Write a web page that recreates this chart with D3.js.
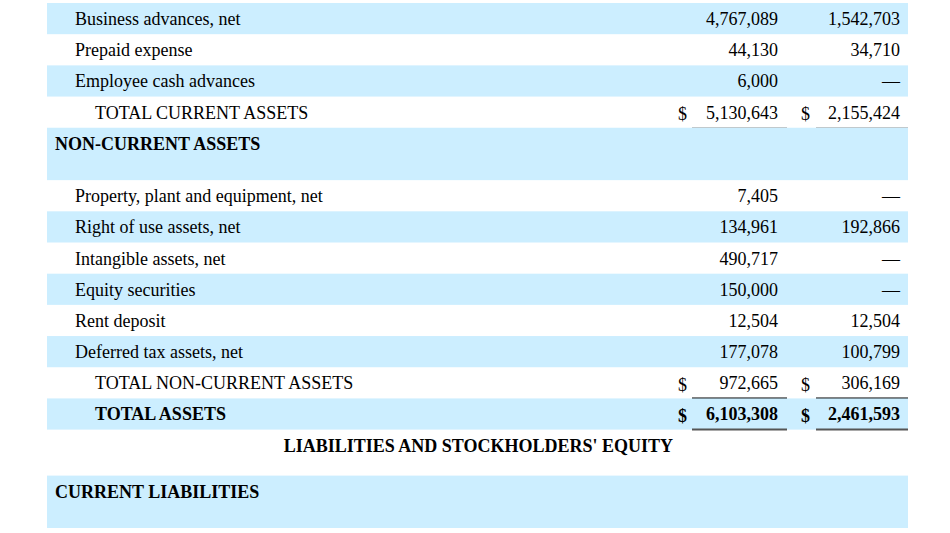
<!DOCTYPE html>
<html>
<head>
<meta charset="utf-8">
<script src="https://cdn.jsdelivr.net/npm/d3@7/dist/d3.min.js"></script>
<style>
html, body {margin:0; padding:0; background:#fff;}
svg text {font-family:"Liberation Serif","Times New Roman",serif; font-size:18px; fill:#000;}
</style>
</head>
<body>
<svg id="chart" width="950" height="533"></svg>
<script>
// row data (read from the balance sheet)
var rowLabels = [
	"Business advances, net",
	"Prepaid expense",
	"Employee cash advances",
	"TOTAL CURRENT ASSETS",
	"NON-CURRENT ASSETS",
	"Property, plant and equipment, net",
	"Right of use assets, net",
	"Intangible assets, net",
	"Equity securities",
	"Rent deposit",
	"Deferred tax assets, net",
	"TOTAL NON-CURRENT ASSETS",
	"TOTAL ASSETS",
	"LIABILITIES AND STOCKHOLDERS' EQUITY",
	"CURRENT LIABILITIES"
];
// item / subtotal / total / section / title
var rowKinds = ["item","item","item","subtotal","section","item","item","item","item","item","item","subtotal","total","title","section"];
var valuesCurrent = [4767089, 44130, 6000, 5130643, null, 7405, 134961, 490717, 150000, 12504, 177078, 972665, 6103308, null, null];
var valuesPrior   = [1542703, 34710, 0, 2155424, null, 0, 192866, 0, 0, 12504, 100799, 306169, 2461593, null, null];

var svg = d3.select("#chart");
var fmt = d3.format(",");

// relative heights of each row kind
var kindUnits = {item:1, subtotal:1, total:1, section:1.68, title:1.475};
var rows = rowLabels.map(function(label, i){
	return {idx:i, label:label, kind:rowKinds[i], cur:valuesCurrent[i], prev:valuesPrior[i]};
});
var acc = 0;
rows.forEach(function(r){
	r.u0 = acc;
	acc += kindUnits[r.kind];
	r.u1 = acc;
});
var y = d3.scaleLinear().domain([0, acc]).range([3, 528]);

// columns: label / current year / prior year
var x = d3.scaleOrdinal()
	.domain(["left","label","indent","section","cell1","dollar1","num1","cell1End","cell2","dollar2","num2","cell2End"])
	.range([47, 75, 95, 55, 692, 678, 778, 787, 816, 801, 900, 908]);

var gRows = svg.append("g").attr("class", "rows");
var rowEls = gRows.selectAll("g.row").data(rows).enter().append("g")
	.attr("class", function(d){return "row " + d.kind;})
	.attr("transform", function(d){return "translate(0," + y(d.u0) + ")";});

rowEls.filter(function(d){return d.idx % 2 === 0;}).append("rect")
	.attr("x", x("left"))
	.attr("width", x("cell2End") - x("left"))
	.attr("height", function(d){return y(d.u1) - y(d.u0);})
	.attr("fill", "#cceeff");

function isBold(d){return d.kind === "section" || d.kind === "total" || d.kind === "title";}
function labelX(d){
	if (d.kind === "section") return x("section");
	if (d.kind === "subtotal" || d.kind === "total") return x("indent");
	if (d.kind === "title") return x("dollar1") - 5;
	return x("label");
}

rowEls.append("text")
	.attr("x", labelX)
	.attr("y", 22)
	.attr("text-anchor", function(d){return d.kind === "title" ? "end" : "start";})
	.attr("font-weight", function(d){return isBold(d) ? "bold" : "normal";})
	.text(function(d){return d.label;});

var valueRows = rowEls.filter(function(d){return d.cur !== null;});
[["cur","num1","dollar1","cell1","cell1End"],["prev","num2","dollar2","cell2","cell2End"]].forEach(function(c){
	valueRows.append("text")
		.attr("x", x(c[1]))
		.attr("y", 22)
		.attr("text-anchor", "end")
		.attr("font-weight", function(d){return isBold(d) ? "bold" : "normal";})
		.text(function(d){return d[c[0]] === 0 ? "\u2014" : fmt(d[c[0]]);});
	var totals = valueRows.filter(function(d){return d.kind === "subtotal" || d.kind === "total";});
	totals.append("text")
		.attr("x", x(c[2]))
		.attr("y", 23.5)
		.attr("font-weight", function(d){return isBold(d) ? "bold" : "normal";})
		.text("$");
	totals.append("line")
		.attr("x1", x(c[3])).attr("x2", x(c[4]))
		.attr("y1", function(d){return y(d.u1) - y(d.u0) + (d.idx === 3 ? 0.5 : 0);})
		.attr("y2", function(d){return y(d.u1) - y(d.u0) + (d.idx === 3 ? 0.5 : 0);})
		.attr("stroke", function(d){return d.kind === "total" ? "#555" : "#000";})
		.attr("stroke-width", function(d){return d.idx === 3 ? 1 : 2;});
});
</script>
</body>
</html>
